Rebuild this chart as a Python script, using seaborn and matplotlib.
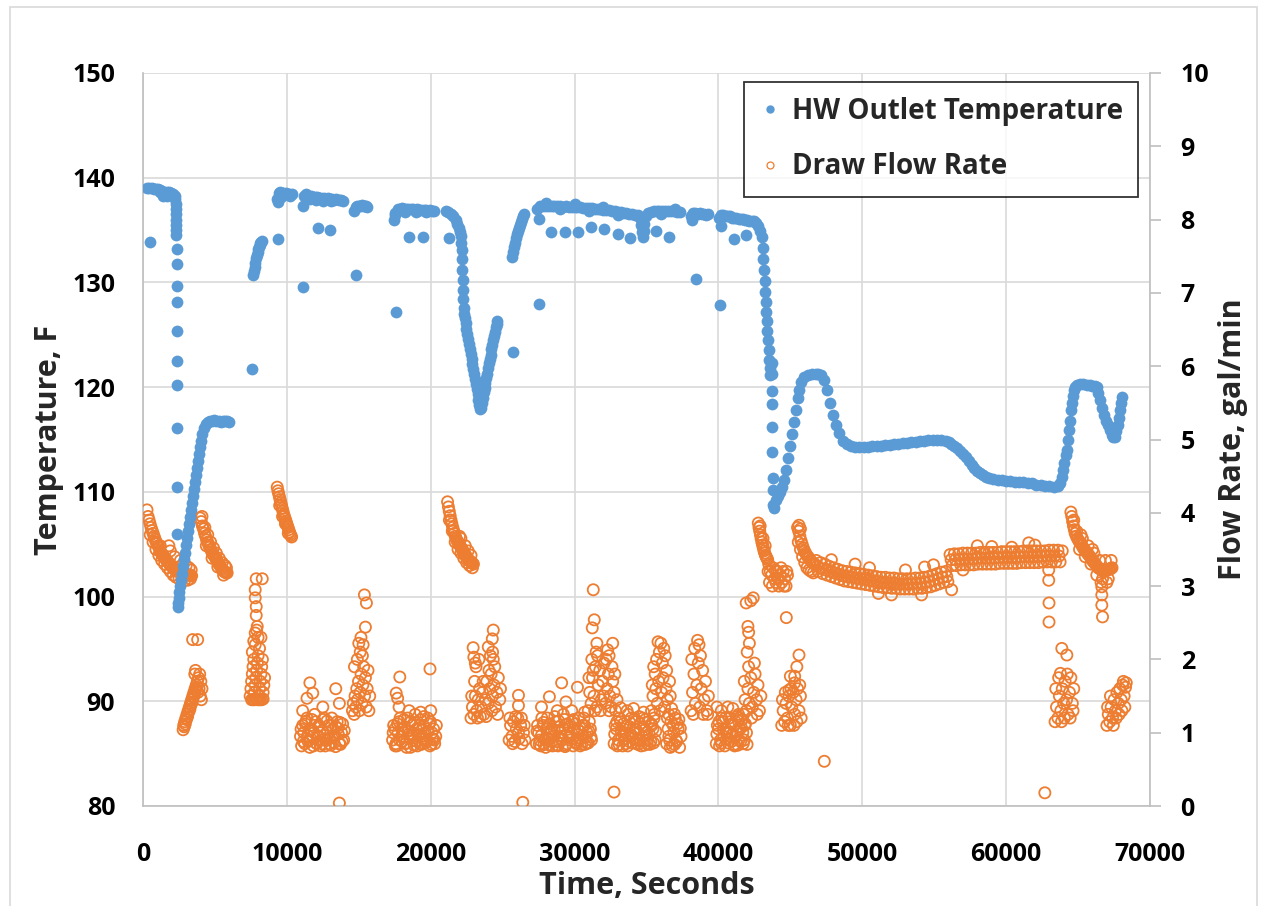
import matplotlib
matplotlib.use("Agg")
import matplotlib.pyplot as plt
from matplotlib.lines import Line2D
from matplotlib.patches import Rectangle
import seaborn as sns
import pandas as pd

# ---------------- HW outlet temperature (time s, temperature F) ----------------
hw_start = [(500,133.9),(300,139.0),(450,139.0),(600,139.0),(750,138.9),(900,138.9),(1050,138.9),
            (1200,138.8),(1350,138.7),(1500,138.5),(1650,138.6),(1800,138.6),(1950,138.5),(2100,138.4),
            (2200,138.3),(1150,138.6),(1400,138.3),(1700,138.3)]
hw_drop1 = [(2240,138.0),(2260,137.5),(2280,137.0),(2295,136.5),(2305,136.0),(2315,135.5),(2320,135.0),
            (2325,134.5),(2330,133.2),(2335,131.8),(2340,129.7),(2345,128.1),(2350,125.4),(2355,122.5),
            (2360,120.2),(2365,116.1),(2370,110.5),(2375,106.0)]
hw_rise1 = [(2420,99.0),(2450,99.4),(2490,99.9),(2530,100.4),(2580,101.0),(2640,101.6),(2710,102.2),
            (2780,102.9),(2850,103.6),(2920,104.2),(2990,104.9),(3060,105.6),(3130,106.3),(3200,106.9),
            (3270,107.6),(3340,108.3),(3410,108.9),(3480,109.6),(3550,110.3),(3620,110.9),(3690,111.6),
            (3760,112.3),(3830,112.9),(3900,113.6),(3970,114.3),(4040,114.9),(4110,115.5),(4250,116.1),
            (4390,116.5),(4530,116.7)]
hw_flat1 = [(4650,116.8),(4800,116.8),(4950,116.9),(5100,116.8),(5250,116.8),(5400,116.7),(5550,116.8),
            (5700,116.8),(5850,116.8),(6000,116.7)]
hw_rise2 = [(7590,121.7),(7660,130.7),(7710,131.1),(7760,131.5),(7810,131.9),(7860,132.3),(7910,132.6),
            (7960,132.9),(8010,133.2),(8060,133.4),(8110,133.6),(8160,133.8),(8210,133.9),(8270,134.0)]
hw_flat2 = [(9400,134.1),(9330,138.0),(9450,138.5),(9550,138.6),(9650,138.5),(9750,138.5),(9850,138.4),
            (9950,138.5),(10050,138.4),(10150,138.4),(10250,138.3),(10350,138.4),(9400,137.7),(9600,138.2)]
hw_flat3 = [(11150,129.6),(11150,137.3),(11200,138.3),(11350,138.4),(11500,138.3),(11650,138.3),(11800,138.2),
            (11950,138.2),(12100,138.2),(12250,138.1),(12400,138.1),(12550,138.1),(12700,138.0),(12850,138.1),
            (13000,138.0),(13150,138.0),(13300,137.9),(13450,138.0),(13600,137.9),(13750,137.9),(13900,137.8),
            (11600,138.0),(12000,137.9),(12500,137.8),(13050,137.8),(12190,135.2),(13020,135.0)]
hw_flat4 = [(14840,130.7),(14700,136.8),(14800,137.2),(14900,137.3),(15000,137.3),(15100,137.3),(15200,137.4),
            (15300,137.3),(15400,137.3),(15500,137.3),(15600,137.2)]
hw_flat5 = [(17620,127.2),(17450,136.0),(17550,136.6),(17700,137.0),(17850,137.0),(18000,137.1),(18150,137.0),
            (18300,137.0),(18450,137.0),(18600,137.0),(18750,137.0),(18900,136.9),(19050,137.0),(19200,136.9),
            (19350,136.9),(19500,136.9),(19650,136.9),(19800,136.8),(19950,136.9),(20100,136.8),(20250,136.8),
            (17500,136.4),(18200,136.7),(19000,136.7),(19700,136.7),(18460,134.3),(19430,134.3),(21240,134.2)]
hw_dip = [(21030,136.8),(21200,136.7),(21380,136.5),(21550,136.3),(21730,136.0),(21850,135.6),(21940,135.2),
          (22010,134.8),(22080,134.4),(22120,133.8),(22150,133.1),(22180,132.2),(22200,131.2),(22220,130.2),
          (22240,129.3),(22260,128.4),(22280,127.6),(22310,127.0),(22360,126.6),(22420,126.1),(22480,125.6),
          (22540,125.1),(22600,124.6),(22660,124.1),(22720,123.6),(22780,123.2),(22840,122.7),(22900,122.2),
          (22960,121.7),(23020,121.3),(23080,120.8),(23140,120.3),(23200,119.8),(23260,119.3),(23320,118.8),
          (23380,118.3),(23440,117.9),(23500,118.0),(23560,118.5),(23620,119.0),(23680,119.5),(23740,119.9),
          (23800,120.4),(23860,120.9),(23920,121.3),(23980,121.8),(24040,122.3),(24100,122.7),(24160,123.1),
          (24220,123.6),(24280,124.0),(24340,124.5),(24400,124.9),(24460,125.3),(24520,125.7),(24580,126.0),
          (24640,126.3)]
hw_rise3 = [(25700,123.4),(25650,132.4),(25720,132.9),(25790,133.4),(25860,133.8),(25930,134.2),(26000,134.6),
            (26070,134.9),(26140,135.2),(26210,135.5),(26280,135.8),(26350,136.1),(26420,136.3),(26480,136.5)]
hw_long = [(27510,127.9),(27510,136.1),(27400,137.0),(27600,137.3),(27800,137.3),(28000,137.3),(28200,137.3),
           (28400,137.3),(28600,137.3),(28800,137.3),(29000,137.3),(29200,137.2),(29400,137.3),(29600,137.2),
           (29800,137.2),(30000,137.2),(30200,137.2),(30400,137.2),(30600,137.1),(30800,137.1),(31000,137.1),
           (31200,137.1),(31400,137.0),(31600,137.0),(31800,137.0),(32000,136.9),(32200,136.9),(32400,136.9),
           (32600,136.8),(32800,136.8),(33000,136.7),(33200,136.7),(33400,136.6),(33600,136.6),(33800,136.5),
           (34000,136.5),(34200,136.4),(34400,136.4),(34550,136.2),(34650,135.5),(34700,134.8),(34750,134.3),
           (34800,134.9),(34850,135.6),(34950,136.3),(35100,136.6),(35300,136.7),(35500,136.8),(35700,136.8),
           (35900,136.8),(36100,136.8),(36300,136.8),(36500,136.8),(36700,136.8),(36900,136.8),(37100,136.7),
           (37300,136.7),(28000,137.6),(29000,137.0),(30000,137.5),(31000,136.8),(32000,137.2),(33000,136.4),
           (36000,136.5),(37000,137.0),(28350,134.8),(29320,134.8),(30230,134.8),(31130,135.3),(32040,135.1),
           (33010,134.6),(33850,134.2),(35660,134.9),(36560,134.3)]
hw_flat6 = [(38450,130.3),(38100,136.3),(38250,136.6),(38400,136.6),(38550,136.5),(38700,136.6),(38850,136.5),
            (39000,136.5),(39150,136.4),(39300,136.5),(38150,136.0)]
hw_flat7 = [(40120,127.8),(40190,135.4),(41090,134.1),(41930,134.5),(40050,136.2),(40200,136.4),(40350,136.4),
            (40500,136.3),(40650,136.3),(40800,136.3),(40950,136.2),(41100,136.2),(41250,136.2),(41400,136.1),
            (41550,136.1),(41700,136.1),(41850,136.0),(42000,136.0),(42150,135.9),(42300,135.9),(42450,135.9),
            (42600,135.7),(42750,135.4),(42900,134.9),(43000,134.3),(43080,133.3),(43130,132.2),(43170,131.2),
            (43210,130.1),(43250,129.1),(43290,128.1),(43330,127.2),(43370,126.3),(43410,125.4),(43450,124.5),
            (43490,123.5),(43530,122.6),(43570,121.8),(43610,121.2)]
hw_drop2 = [(43700,122.3),(43710,121.3),(43720,119.6),(43730,118.4),(43740,116.2),(43750,113.8),(43760,111.3),
            (43770,110.2),(43780,108.7)]
hw_peak = [(43880,108.5),(44020,109.2),(44160,109.6),(44300,110.0),(44440,110.5),(44580,111.1),(44720,112.1),
           (44850,113.2),(44990,114.4),(45130,115.5),(45270,116.7),(45410,117.8),(45550,119.0),(45620,119.7),
           (45760,120.5),(45970,121.0),(46250,121.2),(46500,121.3),(46750,121.3),(46950,121.3),(47150,121.2),
           (47360,120.7),(47570,119.7),(47780,118.5),(47990,117.3),(48200,116.4),(48410,115.6),(48690,114.9),
           (48960,114.6)]
hw_plateau = [(49240,114.4),(49500,114.3),(49800,114.3),(50100,114.3),(50400,114.3),(50700,114.4),(51000,114.4),
              (51300,114.4),(51600,114.5),(51900,114.5),(52200,114.6),(52500,114.6),(52800,114.7),(53100,114.7),
              (53400,114.8),(53700,114.8),(54000,114.9),(54300,114.9),(54600,115.0),(54900,115.0),(55200,115.0),
              (55500,115.0),(55800,114.9),(56000,114.8),(56200,114.6),(56400,114.4),(56600,114.2),(56800,113.9),
              (57000,113.6),(57200,113.3),(57400,112.9),(57600,112.6),(57800,112.3),(58000,112.0),(58200,111.8),
              (58400,111.6),(58600,111.4),(58800,111.3),(59100,111.2),(59400,111.1),(59700,111.1),(60000,111.0),
              (60300,111.0),(60600,110.9),(60900,110.9),(61200,110.9),(61500,110.8),(61800,110.8),(62100,110.7),
              (62400,110.7),(62700,110.6),(63000,110.6),(63300,110.5),(63600,110.6)]
hw_end = [(63730,110.8),(63850,111.4),(63950,112.1),(64050,112.8),(64150,113.5),(64220,114.0),(64290,115.0),
          (64360,115.9),(64430,116.8),(64500,117.8),(64570,118.5),(64640,119.2),(64710,119.7),(64770,120.0),
          (64900,120.2),(65120,120.3),(65350,120.3),(65610,120.2),(65800,120.2),(65960,120.1),(66150,120.1),
          (66310,120.0),(66420,119.4),(66520,118.8),(66650,118.0),(66790,117.3),(66930,116.8),(67070,116.4),
          (67210,115.9),(67350,115.4),(67460,115.2),(67560,115.2),(67660,115.8),(67770,116.4),(67840,117.1),
          (67910,117.8),(67980,118.5),(68050,119.1)]

# ---------------- Draw flow rate (time s, gal/min) ----------------
fl_c1 = [(280,4.04),(350,3.95),(420,3.9),(490,3.85),(560,3.8),(630,3.76),(700,3.72),(770,3.68),(840,3.64),
         (910,3.6),(980,3.58),(1050,3.55),(1120,3.52),(1180,3.48),(1250,3.46),(1320,3.43),(1400,3.42),
         (1480,3.4),(1550,3.38),(1620,3.35),(1700,3.34),(1780,3.32),(1850,3.3),(1920,3.28),(2000,3.27),
         (2080,3.25),(2160,3.24),(2240,3.22),(2320,3.21),(2400,3.2),(2480,3.2),(2560,3.19),(2640,3.18),
         (2720,3.18),(2800,3.17),(2880,3.17),(2960,3.16),(3040,3.16),(3120,3.15),(3200,3.15),(3300,3.15),
         (3380,3.14),(500,3.7),(700,3.6),(900,3.5),(1100,3.42),(1300,3.35),(1500,3.3),(1700,3.25),(1900,3.2),
         (2100,3.15),(2300,3.12),(2500,3.1),(2700,3.1),(2900,3.08),(3100,3.08),(3300,3.1),(1200,3.55),
         (1800,3.55),(1900,3.48),(2200,3.4),(2600,3.35),(2800,3.3),(3000,3.28),(3200,3.25),(3350,3.22)]
fl_c2 = [(3970,3.93),(4050,3.88),(4130,3.82),(4200,3.78),(4280,3.72),(4350,3.68),(4420,3.63),(4500,3.6),
         (4570,3.56),(4640,3.53),(4710,3.5),(4780,3.47),(4850,3.44),(4920,3.42),(5000,3.4),(5070,3.37),
         (5140,3.35),(5210,3.32),(5280,3.3),(5360,3.28),(5430,3.25),(5500,3.23),(5570,3.21),(5640,3.2),
         (5710,3.19),(5780,3.18),(5850,3.18),(4100,3.95),(4300,3.8),(4500,3.7),(4700,3.6),(4900,3.52),
         (5100,3.45),(5300,3.38),(5500,3.32),(5700,3.28),(4400,3.55),(4800,3.38),(5200,3.26),(5600,3.15),
         (5800,3.25)]
fl_c3 = [(2790,1.04),(2830,1.1),(2870,1.08),(2900,1.15),(2940,1.12),(2980,1.2),(3020,1.18),(3060,1.25),
         (3100,1.22),(3140,1.3),(3180,1.28),(3220,1.35),(3260,1.32),(3300,1.4),(3340,1.38),(3380,1.45),
         (3420,1.42),(3460,1.5),(3500,1.48),(3540,1.55),(3580,1.52),(3620,1.6),(3660,1.58),(3700,1.65),
         (3740,1.62),(3780,1.7),(3820,1.55),(3860,1.75),(3900,1.6),(3940,1.8),(3980,1.5),(4020,1.7),
         (4060,1.45),(4100,1.6),(3600,1.8),(3650,1.85),(3450,2.27),(3800,2.27)]
fl_c4 = [(7450,1.5),(7500,1.6),(7550,1.7),(7600,1.8),(7650,1.9),(7700,2.0),(7750,1.55),(7800,1.65),(7850,1.75),
         (7900,1.85),(7950,1.95),(8000,2.05),(8050,1.5),(8100,1.6),(8150,1.7),(8200,1.8),(8250,1.9),(8300,2.0),
         (8350,1.55),(8400,1.65),(8450,1.75),(7550,1.45),(7650,1.45),(7750,1.45),(7850,1.46),(7950,1.45),
         (8050,1.45),(8150,1.45),(8250,1.45),(8350,1.46),(7600,2.1),(7800,2.2),(8000,2.3),(7700,2.25),
         (7900,2.4),(8100,2.15),(8200,2.3),(7870,3.1),(8290,3.1),(7800,2.95),(7800,2.84),(7870,2.72),
         (7870,2.6),(7940,2.45),(7800,2.36)]
fl_c5 = [(9330,4.35),(9380,4.3),(9430,4.26),(9480,4.22),(9530,4.18),(9580,4.14),(9630,4.1),(9680,4.06),
         (9730,4.02),(9780,3.98),(9830,3.95),(9880,3.92),(9930,3.89),(9980,3.86),(10030,3.83),(10080,3.8),
         (10130,3.77),(10180,3.74),(10230,3.71),(10280,3.69),(10330,3.67),(9500,4.1),(9700,3.95),(9900,3.85),
         (10100,3.72)]
fl_c6 = [(10950,0.95),(11100,1.1),(11250,0.85),(11400,1.2),(11550,0.9),(11700,1.05),(11850,0.82),(12000,1.15),
         (12150,0.95),(12300,1.0),(12450,0.85),(12600,1.2),(12750,0.9),(12900,1.1),(13050,0.83),(13200,1.05),
         (13350,0.95),(13500,1.15),(13650,0.85),(13800,1.0),(13950,0.9),(11025,0.82),(11175,1.0),(11325,1.15),
         (11475,0.88),(11625,1.05),(11775,0.95),(11925,1.25),(12075,0.85),(12225,1.1),(12375,0.9),(12525,1.18),
         (12675,0.82),(12825,1.0),(12975,0.92),(13125,1.2),(13275,0.86),(13425,1.08),(13575,0.98),(13725,0.84),
         (13875,1.12),(11600,1.68),(11800,1.54),(11400,1.47),(13400,1.6),(13650,1.4),(11100,1.3),(12500,1.35),
         (13650,0.04)]
fl_c6_t3 = [10990,11140,11290,11440,11590,11740,11890,12040,12190,12340,12490,12640,12790,12940,13090,
            13240,13390,13540,13690,13840,13990]
fl_c6_v3 = [1.05,0.88,1.12,0.96,0.8,1.18,1.0,0.86,1.08,0.82,1.02,0.92,1.16,0.85,1.1,0.94,0.81,1.06,1.14,0.88,1.03]
fl_c7 = [(14560,1.3),(14620,1.4),(14680,1.25),(14740,1.5),(14800,1.35),(14860,1.6),(14920,1.45),(14980,1.7),
         (15040,1.3),(15100,1.55),(15160,1.8),(15220,1.4),(15280,1.65),(15340,1.9),(15400,1.5),(15460,1.75),
         (15520,1.35),(15580,1.6),(15640,1.85),(15700,1.3),(15760,1.5),(14700,1.9),(14900,2.0),(15100,2.1),
         (15300,2.2),(15000,2.22),(15150,2.3),(15250,2.05),(15390,2.88),(15530,2.77),(15460,2.44)]
fl_c8 = [(17350,0.9),(17500,1.05),(17650,0.82),(17800,1.15),(17950,0.95),(18100,1.0),(18250,0.85),(18400,1.2),
         (18550,0.92),(18700,1.1),(18850,0.83),(19000,1.05),(19150,0.97),(19300,1.18),(19450,0.86),(19600,1.0),
         (19750,0.9),(19900,1.12),(20050,0.84),(20200,1.05),(20350,0.95),(17425,1.1),(17575,0.85),(17725,1.0),
         (17875,1.2),(18025,0.88),(18175,1.08),(18325,0.8),(18475,0.98),(18625,1.15),(18775,0.9),(18925,1.25),
         (19075,0.82),(19225,1.1),(19375,0.95),(19525,1.22),(19675,0.87),(19825,1.02),(19975,1.15),(20125,0.92),
         (20275,0.85),(17850,1.76),(17600,1.54),(17700,1.47),(17800,1.35),(19950,1.87),(18500,1.3),(19300,1.28),
         (20000,1.3)]
fl_c8_t3 = [17390,17540,17690,17840,17990,18140,18290,18440,18590,18740,18890,19040,19190,19340,19490,
            19640,19790,19940,20090,20240,20390]
fl_c8_v3 = [1.0,0.82,1.12,0.9,1.05,1.18,0.86,1.02,0.8,0.96,1.14,0.88,1.06,0.84,1.1,0.92,1.2,0.82,1.0,0.9,1.1]
fl_c9 = [(21170,4.15),(21230,4.08),(21290,4.02),(21350,3.96),(21410,3.9),(21470,3.85),(21530,3.8),(21590,3.76),
         (21650,3.72),(21710,3.68),(21770,3.65),(21830,3.62),(21890,3.6),(21950,3.58),(22010,3.56),(22070,3.54),
         (22130,3.52),(22190,3.5),(22250,3.48),(22310,3.45),(22370,3.43),(22430,3.42),(22490,3.4),(22550,3.38),
         (22610,3.36),(22670,3.35),(22730,3.34),(22790,3.33),(22850,3.32),(22910,3.31),(22970,3.3),(21300,3.9),
         (21500,3.75),(21700,3.6),(21900,3.5),(22100,3.45),(22300,3.38),(22500,3.32),(22700,3.28),(22900,3.25),
         (22000,3.68),(22100,3.65),(22400,3.55),(22600,3.48),(22800,3.42)]
fl_c10 = [(22800,1.2),(22900,1.35),(23000,1.25),(23100,1.5),(23200,1.3),(23300,1.45),(23400,1.6),(23500,1.35),
          (23600,1.55),(23700,1.25),(23800,1.45),(23900,1.7),(24000,1.4),(24100,1.6),(24200,1.8),(24300,1.5),
          (24400,1.65),(24500,1.35),(24600,1.55),(24700,1.75),(24800,1.45),(22850,1.5),(23050,1.7),(23250,1.2),
          (23450,1.22),(23650,1.7),(23850,1.22),(24050,1.85),(24250,1.3),(24450,1.9),(24650,1.25),(24850,1.6),
          (23150,1.9),(23350,2.0),(24150,2.05),(24350,2.0),(22950,2.16),(23000,2.03),(24000,2.17),(24300,2.1),
          (24350,2.4),(24280,2.28),(23100,1.95)]
fl_c11 = [(25450,0.9),(25550,1.1),(25650,0.95),(25750,1.15),(25850,0.88),(25950,1.05),(26050,1.2),(26150,0.92),
          (26250,1.1),(26350,0.85),(26450,1.0),(26550,0.9),(25500,1.2),(25700,0.85),(25900,1.22),(26100,1.0),
          (26300,1.2),(26500,1.1),(26100,1.51),(26100,1.37),(26400,0.05)]
fl_c12 = [(27350,0.85),(27500,1.0),(27650,0.82),(27800,1.1),(27950,0.9),(28100,1.2),(28250,0.83),(28400,1.05),
          (28550,0.95),(28700,1.15),(28850,0.82),(29000,1.0),(29150,0.9),(29300,1.18),(29450,0.85),(29600,1.08),
          (29750,0.95),(29900,0.82),(30050,1.12),(30200,0.9),(30350,1.02),(30500,0.84),(30650,1.2),(30800,0.95),
          (30950,0.86),(31100,1.05),(27425,1.1),(27575,0.9),(27725,1.2),(27875,0.84),(28025,1.05),(28175,0.92),
          (28325,1.0),(28475,0.82),(28625,1.22),(28775,0.88),(28925,1.08),(29075,0.95),(29225,1.25),(29375,0.83),
          (29525,1.0),(29675,0.9),(29825,1.15),(29975,1.05),(30125,0.85),(30275,1.2),(30425,0.92),(30575,1.1),
          (30725,0.84),(30875,1.0),(31025,1.15),(31175,0.9),(27700,1.35),(28250,1.49),(29100,1.68),(29400,1.42),
          (30200,1.62),(29800,1.3),(30700,1.28),(28800,1.3)]
fl_c12_t3 = [27390,27540,27690,27840,27990,28140,28290,28440,28590,28740,28890,29040,29190,29340,29490,
             29640,29790,29940,30090,30240,30390,30540,30690,30840,30990,31140]
fl_c12_v3 = [1.02,0.84,0.96,1.14,0.8,0.98,1.12,0.88,1.04,0.83,1.16,0.92,1.06,0.81,1.12,0.94,1.0,1.18,0.87,
             1.04,0.82,0.96,1.1,0.86,1.02,0.94]
fl_c13 = [(30950,1.3),(31050,1.55),(31150,1.4),(31250,1.75),(31350,1.5),(31450,1.9),(31550,1.35),(31650,1.65),
          (31750,1.85),(31850,1.45),(31950,1.7),(32050,1.95),(32150,1.4),(32250,1.6),(32350,1.8),(32450,1.5),
          (32550,1.35),(32650,1.7),(32750,1.55),(32850,1.3),(32950,1.45),(31000,1.75),(31200,2.0),(31400,1.3),
          (31600,2.05),(31800,1.3),(32000,1.5),(32200,2.0),(32400,1.3),(32600,1.9),(32800,1.8),(31300,1.85),
          (31300,2.95),(31370,2.54),(31230,2.43),(31550,2.22),(32300,2.13),(32650,2.22),(31500,2.1),(32400,2.05)]
fl_c14 = [(32750,0.85),(32900,1.05),(33050,0.9),(33200,1.15),(33350,0.82),(33500,1.0),(33650,1.1),(33800,0.88),
          (33950,1.2),(34100,0.92),(34250,1.05),(34400,0.84),(34550,1.12),(34700,0.95),(34850,0.83),(35000,1.0),
          (35150,1.15),(35300,0.88),(35450,1.05),(35600,0.9),(32825,1.1),(32975,0.82),(33125,1.2),(33275,0.95),
          (33425,1.05),(33575,0.85),(33725,1.25),(33875,0.98),(34025,0.86),(34175,1.15),(34325,0.9),(34475,1.22),
          (34625,0.82),(34775,1.08),(34925,1.18),(35075,0.9),(35225,0.84),(35375,1.1),(35525,1.2),(33200,1.34),
          (33650,1.3),(34100,1.33),(34800,1.28),(32740,0.19)]
fl_c14_t3 = [32790,32940,33090,33240,33390,33540,33690,33840,33990,34140,34290,34440,34590,34740,34890,
             35040,35190,35340,35490,35640]
fl_c14_v3 = [0.98,1.15,0.84,1.02,1.12,0.92,0.82,1.08,0.96,1.18,0.86,1.0,0.9,1.2,1.04,0.85,0.98,1.12,0.86,1.02]
fl_c15 = [(35350,1.3),(35450,1.5),(35550,1.25),(35650,1.6),(35750,1.4),(35850,1.7),(35950,1.3),(36050,1.55),
          (36150,1.75),(36250,1.35),(36350,1.6),(36450,1.45),(36550,1.25),(36650,1.5),(35500,1.9),(35700,2.0),
          (35900,2.1),(36100,1.95),(36300,2.05),(35800,2.24),(36000,2.22),(36200,2.15),(35600,1.8),(36400,1.85),
          (35400,1.65),(36600,1.7)]
fl_c16 = [(36400,0.85),(36500,1.05),(36600,0.9),(36700,1.15),(36800,0.82),(36900,1.0),(37000,1.2),(37100,0.88),
          (37200,1.05),(37300,0.8),(37400,0.95),(36450,1.2),(36650,0.8),(36850,1.1),(37050,0.9),(37250,1.18),
          (36750,1.33),(36950,1.25),(36550,0.95),(36950,0.84),(37150,1.12),(37350,1.06)]
fl_c17 = [(38100,1.3),(38200,1.55),(38300,1.8),(38400,1.4),(38500,1.65),(38600,1.95),(38700,1.35),(38800,1.6),
          (38900,1.85),(39000,1.45),(39100,1.7),(39200,1.3),(39300,1.5),(38150,2.0),(38350,2.15),(38550,2.26),
          (38650,2.2),(38750,2.05),(38950,1.25),(39250,1.25),(38250,1.25)]
fl_c18 = [(39850,0.85),(40000,1.05),(40150,0.9),(40300,1.15),(40450,0.82),(40600,1.0),(40750,1.2),(40900,0.88),
          (41050,1.1),(41200,0.95),(41350,0.83),(41500,1.05),(41650,1.18),(41800,0.9),(41950,1.0),(39925,1.1),
          (40075,0.82),(40225,1.2),(40375,0.95),(40525,1.05),(40675,0.86),(40825,1.15),(40975,0.98),(41125,0.82),
          (41275,1.22),(41425,0.9),(41575,1.08),(41725,0.85),(41875,1.12),(39900,1.35),(40200,1.3),(40650,1.35),
          (41000,1.33),(41400,1.25),(41500,1.2)]
fl_c18_t3 = [39890,40040,40190,40340,40490,40640,40790,40940,41090,41240,41390,41540,41690,41840,41990]
fl_c18_v3 = [0.98,1.15,0.86,1.04,1.2,0.92,1.0,1.12,0.84,1.02,1.16,0.88,1.0,1.1,0.84]
fl_c19 = [(41750,1.25),(41850,1.45),(41950,1.3),(42050,1.6),(42150,1.4),(42250,1.75),(42350,1.35),(42450,1.55),
          (42550,1.8),(42650,1.45),(42750,1.65),(42850,1.3),(42950,1.5),(41800,1.7),(42100,1.9),(42300,1.2),
          (42500,1.95),(42700,1.25),(42150,2.22),(42100,2.37),(42050,2.45),(41930,2.77),(42420,2.84),(42250,2.8),
          (42000,2.1)]
fl_c20 = [(42770,3.86),(42820,3.8),(42870,3.75),(42920,3.7),(42970,3.65),(43020,3.6),(43070,3.56),(43120,3.52),
          (43170,3.48),(43220,3.45),(43270,3.42),(43320,3.4),(43370,3.38),(43420,3.36),(43500,3.3),(43600,3.2),
          (43700,3.15),(43800,3.25),(43900,3.1),(44000,3.05),(44100,3.2),(44200,3.0),(44300,3.15),(44400,3.05),
          (44500,3.2),(44600,3.1),(44700,3.0),(44800,3.15),(43450,3.2),(43550,3.05),(43750,3.0),(43950,3.22),
          (44150,3.1),(44350,3.25),(44550,3.0),(44750,3.2),(42900,3.82),(43100,3.65),(43250,3.55),(44720,2.57)]
fl_c22 = [(44400,1.1),(44500,1.3),(44600,1.15),(44700,1.4),(44800,1.2),(44900,1.5),(45000,1.1),(45100,1.35),
          (45200,1.55),(45300,1.25),(45400,1.45),(45500,1.6),(45600,1.3),(45700,1.5),(45750,1.2),(44450,1.45),
          (44650,1.55),(44850,1.1),(45050,1.6),(45250,1.1),(45450,1.15),(45650,1.65),(45600,2.06),(45450,1.9),
          (45300,1.77),(45000,1.77),(44900,1.58),(45300,1.68),(47360,0.61)]
fl_head21 = [(45500,3.8),(45580,3.75),(45660,3.68),(45740,3.62),(45820,3.57),(45900,3.52),(45980,3.48),
             (46060,3.45),(46140,3.42),(46220,3.4),(46300,3.38),(46400,3.35),(46500,3.33),(46600,3.31),
             (46700,3.3),(45550,3.6),(45700,3.5),(45850,3.4),(46000,3.32),(46150,3.25),(46300,3.22),(46450,3.2),
             (46600,3.18),(45600,3.83),(45700,3.78)]
fl_band_t1 = [46800,47100,47400,47700,48000,48300,48600,48900,49200,49500,49800,50100,50400,50700,51000,
              51300,51600,51900,52200,52500,52800,53100,53400,53700,54000,54300,54600,54900,55200,55500,
              55800,56100,56400,56700,57000,57300,57600,57900,58200,58500,58800,59100,59400,59700,60000,
              60300,60600,60900,61200,61500,61800,62100,62400,62700,63000,63300,63600,63900]
fl_band_v1 = [3.35,3.32,3.3,3.27,3.25,3.23,3.21,3.2,3.19,3.18,3.17,3.16,3.15,3.14,3.13,
              3.12,3.12,3.11,3.11,3.1,3.1,3.1,3.1,3.11,3.11,3.12,3.13,3.15,3.17,3.19,
              3.2,3.43,3.44,3.44,3.45,3.45,3.45,3.45,3.46,3.46,3.46,3.46,3.46,3.47,3.47,
              3.47,3.47,3.47,3.48,3.48,3.48,3.48,3.48,3.48,3.49,3.49,3.49,3.48]
fl_band_t2 = [46950,47250,47550,47850,48150,48450,48750,49050,49350,49650,49950,50250,50550,50850,51150,
              51450,51750,52050,52350,52650,52950,53250,53550,53850,54150,54450,54750,55050,55350,55650,
              55950,56250,56550,56850,57150,57450,57750,58050,58350,58650,58950,59250,59550,59850,60150,
              60450,60750,61050,61350,61650,61950,62250,62550,62850,63150,63450,63750]
fl_band_v2 = [3.2,3.17,3.15,3.13,3.11,3.09,3.07,3.06,3.05,3.04,3.03,3.02,3.01,3.0,2.99,
              2.98,2.98,2.97,2.97,2.96,2.96,2.96,2.96,2.97,2.97,2.98,2.99,3.01,3.03,3.05,
              3.06,3.28,3.28,3.29,3.29,3.29,3.29,3.3,3.3,3.3,3.3,3.3,3.31,3.31,3.31,
              3.31,3.31,3.32,3.32,3.32,3.32,3.32,3.33,3.33,3.33,3.33,3.33]
fl_band_t3 = [46875,47175,47475,47775,48075,48375,48675,48975,49275,49575,49875,50175,50475,50775,51075,
              51375,51675,51975,52275,52575,52875,53175,53475,53775,54075,54375,54675,54975,55275,55575,
              55875,56175,56475,56775,57075,57375,57675,57975,58275,58575,58875,59175,59475,59775,60075,
              60375,60675,60975,61275,61575,61875,62175,62475,62775,63075,63375,63675]
fl_band_v3 = [3.27,3.24,3.22,3.2,3.18,3.16,3.14,3.13,3.12,3.11,3.1,3.09,3.08,3.07,3.06,
              3.05,3.05,3.04,3.04,3.03,3.03,3.03,3.03,3.04,3.04,3.05,3.06,3.08,3.1,3.12,
              3.13,3.36,3.36,3.37,3.37,3.37,3.37,3.38,3.38,3.38,3.38,3.38,3.39,3.39,3.39,
              3.39,3.39,3.4,3.4,3.4,3.4,3.4,3.41,3.41,3.41,3.41,3.41]
fl_band_out = [(47850,3.36),(54330,3.26),(54950,3.29),(60390,3.53),(61570,3.59),(56210,2.95),(51120,2.9),
               (52030,2.88),(54120,2.88),(49500,3.3),(58000,3.55),(59000,3.54),(62000,3.56),(57000,3.22),
               (53000,3.22),(50500,3.25),(62960,3.22),(62960,3.08),(62980,2.77),(62980,2.51),(62690,0.18)]
fl_c23 = [(63400,1.15),(63500,1.35),(63600,1.2),(63700,1.5),(63800,1.3),(63900,1.6),(64000,1.4),(64100,1.7),
          (64200,1.45),(64300,1.25),(64400,1.55),(64500,1.75),(64600,1.4),(64700,1.6),(63450,1.6),(63650,1.75),
          (63850,1.15),(64050,1.2),(64250,1.8),(64450,1.2),(64650,1.3),(63870,2.15),(64220,2.06),(63770,1.81)]
fl_c24 = [(64500,4.01),(64560,3.95),(64620,3.88),(64680,3.82),(64740,3.77),(64800,3.72),(64880,3.68),(64960,3.65),
          (65040,3.62),(65120,3.6),(65200,3.58),(65280,3.55),(65360,3.52),(65440,3.5),(65520,3.48),(65600,3.46),
          (65680,3.44),(65760,3.42),(65840,3.4),(65920,3.37),(66000,3.35),(66080,3.33),(66160,3.31),(66240,3.29),
          (66320,3.27),(66400,3.25),(66480,3.24),(66560,3.23),(66640,3.22),(66720,3.22),(66800,3.21),(66880,3.21),
          (66960,3.22),(67040,3.22),(67120,3.23),(67200,3.23),(67280,3.24),(67360,3.25),(64700,3.9),(64900,3.75),
          (65100,3.5),(65300,3.65),(65500,3.4),(65700,3.55),(65900,3.3),(66100,3.45),(66300,3.15),(66500,3.35),
          (66700,3.1),(66900,3.35),(67100,3.1),(67300,3.35),(65200,3.7),(66000,3.5),(66600,3.05),(67000,3.05),
          (66650,2.99),(66650,2.88),(66650,2.74),(66700,2.58)]
fl_c25 = [(67000,1.1),(67100,1.25),(67200,1.15),(67300,1.35),(67400,1.2),(67500,1.45),(67600,1.3),(67700,1.55),
          (67800,1.4),(67900,1.6),(68000,1.45),(68100,1.65),(68200,1.5),(68300,1.62),(67050,1.35),(67250,1.5),
          (67450,1.1),(67650,1.2),(67850,1.25),(68050,1.3),(68250,1.35),(68350,1.68),(68150,1.7)]

x_ticks = [0, 10000, 20000, 30000, 40000, 50000, 60000, 70000]
temp_ticks = [80, 90, 100, 110, 120, 130, 140, 150]
flow_ticks = [0, 1, 2, 3, 4, 5, 6, 7, 8, 9, 10]
series_names = ["HW Outlet Temperature", "Draw Flow Rate"]
x_label = "Time, Seconds"
temp_label = "Temperature, F"
flow_label = "Flow Rate, gal/min"

BLUE = "#5B9BD5"
ORANGE = "#ED7D31"
GRID = "#D9D9D9"
SPINE = "#BFBFBF"

hw_parts = [hw_start, hw_drop1, hw_rise1, hw_flat1, hw_rise2, hw_flat2, hw_flat3, hw_flat4, hw_flat5,
            hw_dip, hw_rise3, hw_long, hw_flat6, hw_flat7, hw_drop2, hw_peak, hw_plateau, hw_end]
hw = pd.DataFrame([p for part in hw_parts for p in part], columns=["time", "temp"])

fl_parts = [fl_c1, fl_c2, fl_c3, fl_c4, fl_c5, fl_c6, list(zip(fl_c6_t3, fl_c6_v3)), fl_c7, fl_c8,
            list(zip(fl_c8_t3, fl_c8_v3)), fl_c9, fl_c10, fl_c11, fl_c12, list(zip(fl_c12_t3, fl_c12_v3)),
            fl_c13, fl_c14, list(zip(fl_c14_t3, fl_c14_v3)), fl_c15, fl_c16, fl_c17, fl_c18,
            list(zip(fl_c18_t3, fl_c18_v3)), fl_c19, fl_c20, fl_c22, fl_head21,
            list(zip(fl_band_t1, fl_band_v1)), list(zip(fl_band_t2, fl_band_v2)),
            list(zip(fl_band_t3, fl_band_v3)), fl_band_out, fl_c23, fl_c24, fl_c25]
fl = pd.DataFrame([p for part in fl_parts for p in part], columns=["time", "flow"])

sns.set_theme(style="white")
plt.rcParams["font.family"] = ["Open Sans", "DejaVu Sans"]
plt.rcParams["font.weight"] = "bold"

W, H = 1261, 906
fig = plt.figure(figsize=(W / 100, H / 100), dpi=100)
fig.patches.append(Rectangle((10 / W, -0.01), (1257 - 10) / W, 1 - 7 / H + 0.01, transform=fig.transFigure,
                             fill=False, edgecolor=GRID, linewidth=1.2))

L, R, T, B = 143, 1150, 73, 806
rect = [L / W, 1 - B / H, (R - L) / W, (B - T) / H]
ax1 = fig.add_axes(rect)
ax2 = ax1.twinx()
ax3 = ax1.twinx()

# grid / left axis
ax1.set_xlim(0, 70000)
ax1.set_ylim(80, 150)
ax1.set_xticks(x_ticks)
ax1.set_yticks(temp_ticks)
ax1.grid(True, color=GRID, linewidth=1.2)
ax1.set_axisbelow(True)
for s in ["top", "right"]:
    ax1.spines[s].set_visible(False)
for s in ["left", "bottom"]:
    ax1.spines[s].set_color(SPINE)
    ax1.spines[s].set_linewidth(1.2)
ax1.tick_params(axis="both", length=0, labelsize=18, colors="black")
ax1.tick_params(axis="y", pad=20)
ax1.tick_params(axis="x", pad=26)
for lab in ax1.get_xticklabels() + ax1.get_yticklabels():
    lab.set_fontweight("bold")
ax1.set_xlabel(x_label, fontsize=22, fontweight="bold", labelpad=3)
ax1.set_ylabel(temp_label, fontsize=22, fontweight="bold", labelpad=6)

# flow on right axis
sns.scatterplot(data=fl, x="time", y="flow", ax=ax2, marker="o", s=64, facecolor="none",
                edgecolor=ORANGE, linewidth=1.3, legend=False)
ax2.set_xlim(0, 70000)
ax2.set_ylim(0, 10)
ax2.set_yticks(flow_ticks)
for s in ["top", "left", "bottom"]:
    ax2.spines[s].set_visible(False)
ax2.spines["right"].set_color(SPINE)
ax2.spines["right"].set_linewidth(1.2)
ax2.tick_params(axis="y", right=True, length=8, width=1.2, color=SPINE, direction="out",
                labelsize=18, pad=14, colors="black")
for lab in ax2.get_yticklabels():
    lab.set_fontweight("bold")
ax2.set_ylabel(flow_label, fontsize=22, fontweight="bold", labelpad=6)
ax2.grid(False)

# temperature on top
sns.scatterplot(data=hw, x="time", y="temp", ax=ax3, marker="o", s=72, color=BLUE,
                linewidth=0, legend=False)
ax3.set_xlim(0, 70000)
ax3.set_ylim(80, 150)
ax3.axis("off")

handles = [Line2D([], [], linestyle="none", marker="o", markersize=5, markerfacecolor=BLUE,
                  markeredgecolor=BLUE),
           Line2D([], [], linestyle="none", marker="o", markersize=5, markerfacecolor="none",
                  markeredgecolor=ORANGE, markeredgewidth=0.9)]
leg = ax3.legend(handles, series_names, loc="upper right", bbox_to_anchor=(0.988, 0.988),
                 prop={"size": 20, "weight": "bold"}, frameon=True, fancybox=False,
                 edgecolor="black", handlelength=0.8, handletextpad=0.36, borderpad=0.55,
                 labelspacing=0.95, borderaxespad=0)
leg.get_frame().set_linewidth(1.3)
leg.set_zorder(10)

fig.savefig("out.png", dpi=100)
